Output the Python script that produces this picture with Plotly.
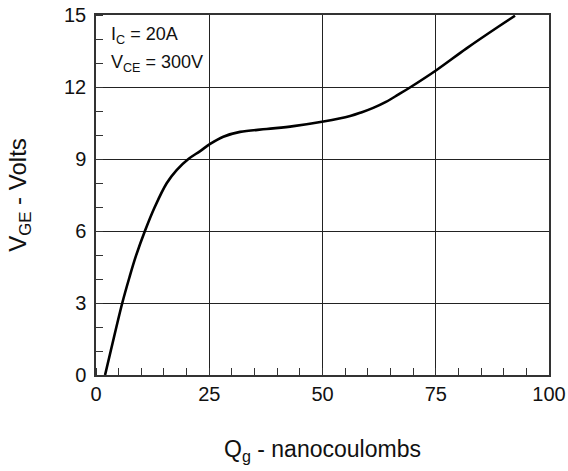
import plotly.graph_objects as go

# Gate charge curve
qg_nc = [2.0, 3.3, 5.8, 7.4, 8.8, 10.8, 13.0, 15.6, 17.8, 20.4, 23.0, 25.2, 28.1, 31.8,
         37.7, 43.6, 50.2, 56.1, 58.7, 61.2, 64.0, 66.7, 69.3, 75.2, 81.8, 88.8, 92.5]
vge_v = [0.0, 1.04, 3.0, 4.08, 4.95, 6.0, 7.01, 7.99, 8.54, 9.0, 9.33, 9.63, 9.93, 10.13,
         10.25, 10.37, 10.56, 10.79, 10.95, 11.13, 11.38, 11.68, 11.98, 12.71, 13.61, 14.51, 14.97]

x_ticks = [0, 25, 50, 75, 100]
y_ticks = [0, 3, 6, 9, 12, 15]

FONT = "Liberation Sans, Arial, sans-serif"

fig = go.Figure()
fig.add_trace(go.Scatter(x=qg_nc, y=vge_v, mode="lines",
                         line=dict(color="black", width=2.6, shape="spline", smoothing=1.0),
                         showlegend=False, hoverinfo="skip"))

axis_common = dict(showline=True, linecolor="#333", linewidth=1.5, mirror=True,
                   showgrid=True, gridcolor="#222", gridwidth=1.2, zeroline=False,
                   ticks="", automargin=False,
                   tickfont=dict(family=FONT, size=20, color="#111"))

fig.update_xaxes(range=[0, 100], tickvals=x_ticks, ticktext=[str(v) for v in x_ticks],
                 minor=dict(ticks="inside", dtick=5, tick0=0, ticklen=7, tickcolor="#333",
                            tickwidth=1.2, showgrid=False),
                 title_text="Q<sub>g</sub> - nanocoulombs", title_standoff=37,
                 title_font=dict(family=FONT, size=23, color="#111"),
                 **axis_common)
fig.update_yaxes(range=[0, 15], tickvals=y_ticks, ticktext=[str(v) for v in y_ticks],
                 minor=dict(ticks="inside", dtick=1, tick0=0, ticklen=7, tickcolor="#333",
                            tickwidth=1.2, showgrid=False),
                 title_text="V<sub>GE</sub> - Volts", title_standoff=31,
                 title_font=dict(family=FONT, size=24, color="#111"),
                 ticklabelstandoff=4,
                 **axis_common)

fig.add_annotation(x=2.9, y=14.15, xref="x", yref="y", xanchor="left", yanchor="middle",
                   text="I<sub>C</sub> = 20A", showarrow=False,
                   font=dict(family=FONT, size=18, color="#111"))
fig.add_annotation(x=2.9, y=13.0, xref="x", yref="y", xanchor="left", yanchor="middle",
                   text="V<sub>CE</sub> = 300V", showarrow=False,
                   font=dict(family=FONT, size=18, color="#111"))

fig.update_layout(width=568, height=471, margin=dict(l=96, r=19, t=15, b=96),
                  plot_bgcolor="white", paper_bgcolor="white",
                  font=dict(family=FONT))

fig.write_html("out.html")
